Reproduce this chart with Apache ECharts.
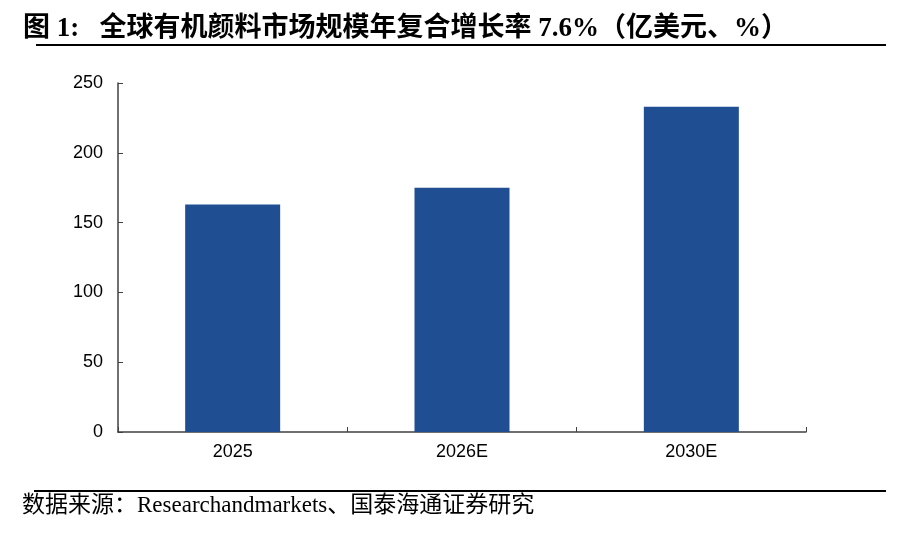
<!DOCTYPE html>
<html>
<head>
<meta charset="utf-8">
<script src="https://cdn.jsdelivr.net/npm/echarts@6/dist/echarts.min.js"></script>
<style>
  html, body { margin: 0; padding: 0; background: #fff; }
  #container { width: 908px; height: 536px; }
</style>
</head>
<body>
<div id="container"></div>
<script>
// data
var categories = ["2025", "2026E", "2030E"];
var marketSize = [163, 175, 233];
var yTicks = [0, 50, 100, 150, 200, 250];

var titleText = "图 1:   全球有机颜料市场规模年复合增长率 7.6%（亿美元、%）";
var sourceText = "数据来源：Researchandmarkets、国泰海通证券研究";

var dom = document.getElementById("container");
var myChart = echarts.init(dom);
var option = null;

var axisColor = "#404040";
var serifFont = "'Liberation Serif', 'Noto Sans CJK SC', serif";
var sansFont = "'Liberation Sans', Arial, sans-serif";

option = {
  backgroundColor: "#fff",
  animation: false,
  title: {
    text: titleText,
    left: 18,
    top: 11,
    textStyle: {
      fontFamily: serifFont,
      fontSize: 27,
      fontWeight: "bold",
      color: "#000",
    },
  },
  graphic: [
    {
      type: "line",
      shape: { x1: 36, y1: 45, x2: 886, y2: 45 },
      style: { stroke: "#000", lineWidth: 2 },
    },
    {
      type: "line",
      shape: { x1: 34, y1: 491, x2: 886, y2: 491 },
      style: { stroke: "#000", lineWidth: 2 },
    },
    {
      type: "text",
      left: 22,
      top: 494,
      style: {
        text: sourceText,
        fontFamily: serifFont,
        fontSize: 23,
        fill: "#000",
      },
    },
  ],
  grid: {
    left: 118,
    right: 102,
    top: 83,
    bottom: 104,
    containLabel: false,
  },
  xAxis: {
    type: "category",
    data: categories,
    axisLine: { lineStyle: { color: axisColor, width: 1.5 } },
    axisTick: {
      show: true,
      inside: true,
      length: 5,
      alignWithLabel: false,
      lineStyle: { color: axisColor },
    },
    axisLabel: {
      color: "#000",
      fontSize: 18,
      fontFamily: sansFont,
      margin: 11,
    },
  },
  yAxis: {
    type: "value",
    min: yTicks[0],
    max: yTicks[yTicks.length - 1],
    interval: yTicks[1] - yTicks[0],
    splitLine: { show: false },
    axisLine: { show: true, lineStyle: { color: axisColor, width: 1.5 } },
    axisTick: {
      show: true,
      inside: true,
      length: 5,
      lineStyle: { color: axisColor },
    },
    axisLabel: {
      color: "#000",
      fontSize: 18,
      fontFamily: sansFont,
      margin: 15,
    },
  },
  series: [
    {
      name: "市场规模",
      type: "bar",
      data: marketSize,
      barWidth: 95,
      itemStyle: { color: "#1F4E93" },
    },
  ],
};

if (option && typeof option === "object") {
  myChart.setOption(option, true);
}
</script>
</body>
</html>
